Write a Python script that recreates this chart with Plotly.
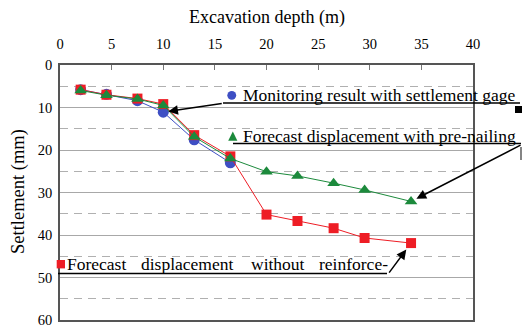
import plotly.graph_objects as go

# ---- data ----
depth = [2, 4.5, 7.5, 10, 13, 16.5, 20, 23, 26.5, 29.5, 34]
monitoring = [5.8, 6.9, 8.4, 11.1, 17.6, 23.0]
pre_nailing = [6.0, 7.1, 8.0, 9.5, 16.9, 22.0, 25.1, 26.1, 27.8, 29.4, 32.1]
no_reinforce = [5.8, 7.0, 7.9, 9.2, 16.5, 21.5, 35.2, 36.7, 38.4, 40.7, 41.9]
x_ticks = [0, 5, 10, 15, 20, 25, 30, 35, 40]
y_ticks = [0, 10, 20, 30, 40, 50, 60]

BLUE = "#3E4FC4"
RED = "#EE1D25"
GREEN = "#1C8A3C"
FONT = "Liberation Serif, Times New Roman, serif"

W, H = 531, 328
L, R, T, B = 60, 58, 65, 8
PW, PH = W - L - R, H - T - B


def px(x):
    return (x - L) / PW


def py(y):
    return (H - B - y) / PH


fig = go.Figure()
fig.add_trace(go.Scatter(x=depth[:len(monitoring)], y=monitoring, mode="lines+markers",
                         line=dict(color=BLUE, width=1),
                         marker=dict(symbol="circle", size=11, color=BLUE),
                         name="Monitoring result with settlement gage"))
fig.add_trace(go.Scatter(x=depth, y=no_reinforce, mode="lines+markers",
                         line=dict(color=RED, width=1),
                         marker=dict(symbol="square", size=10, color=RED),
                         name="Forecast displacement without reinforcement"))
fig.add_trace(go.Scatter(x=depth, y=pre_nailing, mode="lines+markers",
                         line=dict(color=GREEN, width=1),
                         marker=dict(symbol="triangle-up", size=11, color=GREEN),
                         name="Forecast displacement with pre-nailing"))

ann = []
# axis titles
ann.append(dict(text="Excavation depth (m)", xref="paper", yref="paper", x=px(267), y=py(17),
                xanchor="center", yanchor="middle", showarrow=False,
                font=dict(family=FONT, size=18, color="black")))
ann.append(dict(text="Settlement (mm)", xref="paper", yref="paper", x=px(18), y=py(192),
                xanchor="center", yanchor="middle", showarrow=False, textangle=-90,
                font=dict(family=FONT, size=18.5, color="black")))

tf = dict(family=FONT, size=17.5, color="black")
ann.append(dict(text="Monitoring result with settlement gage", xref="paper", yref="paper",
                x=px(241), y=py(94.5), xanchor="left", yanchor="middle", showarrow=False, font=tf))
ann.append(dict(text="Forecast displacement with pre-nailing", xref="paper", yref="paper",
                x=px(241), y=py(136), xanchor="left", yanchor="middle", showarrow=False, font=tf))
for word, xs in [("Forecast", 65), ("displacement", 139), ("without", 249), ("reinforce-", 317)]:
    ann.append(dict(text=word, xref="paper", yref="paper", x=px(xs), y=py(263.5),
                    xanchor="left", yanchor="middle", showarrow=False, font=tf))

# arrows pointing to data points
ann.append(dict(text="", x=depth[3], y=monitoring[3], xref="x", yref="y", ax=60, ay=-9,
                showarrow=True, arrowhead=2, arrowsize=1.3, arrowwidth=1.5, arrowcolor="black", standoff=5))
ann.append(dict(text="", x=depth[-1], y=pre_nailing[-1], xref="x", yref="y", ax=111, ay=-57,
                showarrow=True, arrowhead=2, arrowsize=1.3, arrowwidth=1.5, arrowcolor="black", standoff=6))
ann.append(dict(text="", x=depth[-1], y=no_reinforce[-1], xref="x", yref="y", ax=-23, ay=31,
                showarrow=True, arrowhead=2, arrowsize=1.3, arrowwidth=1.5, arrowcolor="black", standoff=8))

shapes = []
ln = dict(color="black", width=1.5)
shapes.append(dict(type="line", xref="paper", yref="paper", x0=px(223), x1=px(520), y0=py(103), y1=py(103), line=ln))
shapes.append(dict(type="line", xref="paper", yref="paper", x0=px(233), x1=px(521), y0=py(143.5), y1=py(143.5), line=ln))
shapes.append(dict(type="line", xref="paper", yref="paper", x0=px(58), x1=px(387), y0=py(273.5), y1=py(273.5), line=ln))
shapes.append(dict(type="rect", xref="paper", yref="paper", x0=px(515), x1=px(522), y0=py(113), y1=py(106),
                   fillcolor="black", line=dict(width=0)))
shapes.append(dict(type="line", xref="paper", yref="paper", x0=px(521), x1=px(521), y0=py(147), y1=py(160),
                   line=dict(color="#333", width=1.2)))
# legend-like symbols next to texts
shapes.append(dict(type="circle", xref="paper", yref="paper", x0=px(227.3), x1=px(236.2), y0=py(99.8), y1=py(90.9),
                   fillcolor=BLUE, line=dict(width=0)))
shapes.append(dict(type="path", xref="paper", yref="paper",
                   path=f"M {px(228.2)},{py(140.8)} L {px(237.4)},{py(140.8)} L {px(232.8)},{py(131.5)} Z",
                   fillcolor=GREEN, line=dict(width=0)))
shapes.append(dict(type="rect", xref="paper", yref="paper", x0=px(56.7), x1=px(65), y0=py(268.4), y1=py(260),
                   fillcolor=RED, line=dict(width=0)))

fig.update_layout(
    width=W, height=H, margin=dict(l=L, r=R, t=T, b=B, autoexpand=False),
    paper_bgcolor="white", plot_bgcolor="white", showlegend=False,
    font=dict(family=FONT, color="black"),
    annotations=ann, shapes=shapes,
    xaxis=dict(side="top", range=[0, 40], tickvals=x_ticks, ticktext=[str(v) for v in x_ticks],
               showgrid=False, zeroline=False, showline=True, linecolor="#555", linewidth=1.5, mirror=True,
               ticks="inside", ticklen=5, tickcolor="#777", tickwidth=1, automargin=False,
               ticklabeloverflow="allow",
               tickfont=dict(family=FONT, size=14.5, color="black"), ticklabelstandoff=8),
    yaxis=dict(range=[60, 0], tickvals=y_ticks, ticktext=[str(v) for v in y_ticks],
               showgrid=True, gridcolor="#A8A8A8", gridwidth=1, zeroline=False, automargin=False,
               showline=True, linecolor="#555", linewidth=1.5, mirror=True, ticks="",
               ticklabeloverflow="allow",
               tickfont=dict(family=FONT, size=14.5, color="black"), ticklabelstandoff=3,
               minor=dict(dtick=5, showgrid=True, gridcolor="#B0B0B0", gridwidth=1, griddash="8px,6px")),
)

fig.write_html("out.html", config={"displayModeBar": False},
               post_script="document.body.style.margin='0';document.body.style.overflow='hidden';")
